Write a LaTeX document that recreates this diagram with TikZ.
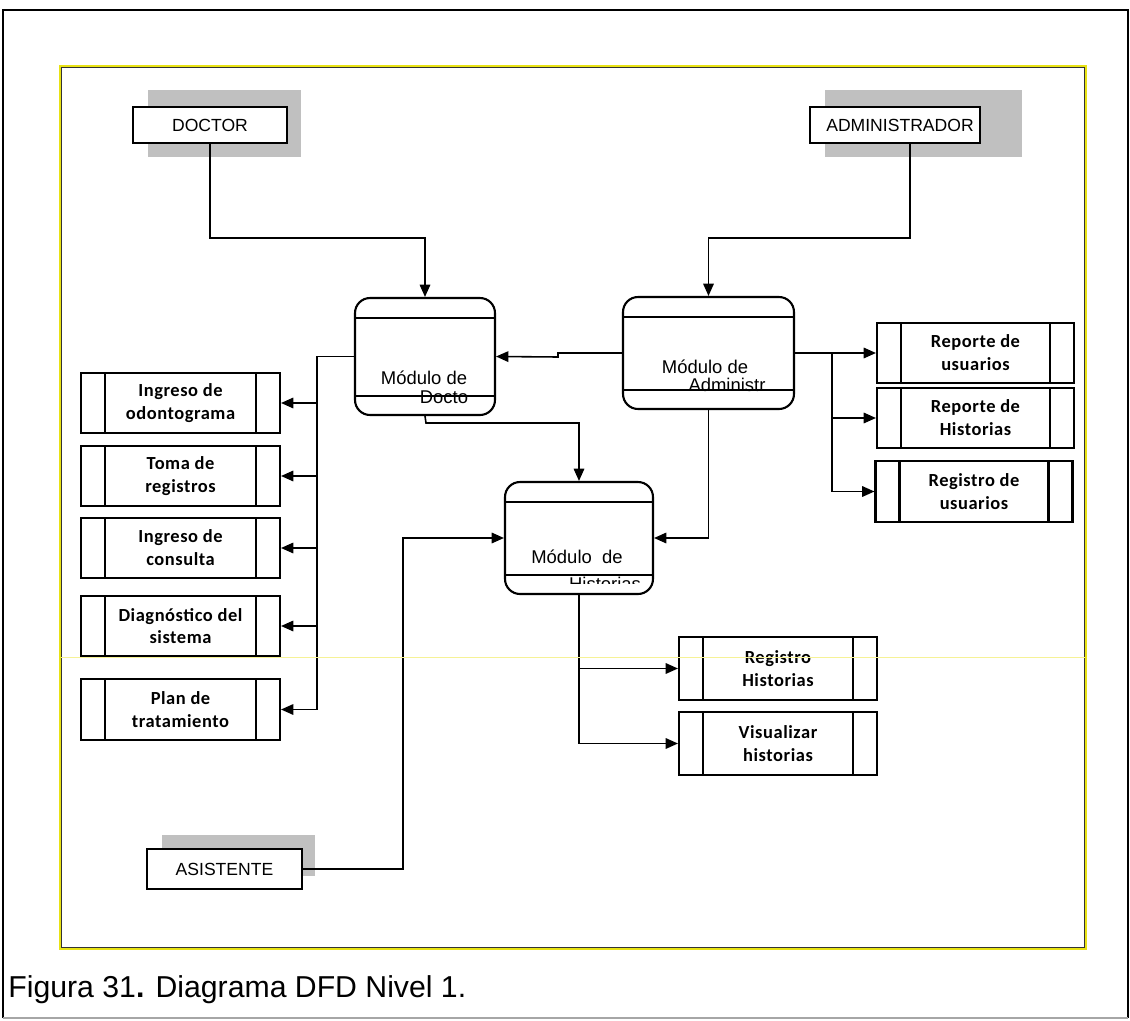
\documentclass[tikz,border=0pt]{standalone}
\usepackage{fontspec}
\setmainfont{Liberation Sans}
\newfontfamily\storefont[LetterSpace=3]{Carlito}
\usetikzlibrary{arrows.meta}
\definecolor{framey}{RGB}{232,226,20}
\definecolor{guidey}{RGB}{246,242,150}
\definecolor{shadowgray}{RGB}{192,192,192}
\begin{document}
\begin{tikzpicture}[x=0.02cm, y=-0.02cm,
  ent/.style={draw, line width=1pt, fill=white, inner sep=0pt,
    minimum height=0.72cm, font=\fontsize{10}{12}\selectfont},
  shade/.style={fill=shadowgray, draw=none},
  store/.style={draw, line width=1.2pt, fill=white, inner sep=0pt,
    minimum height=1.2cm, align=center,
    font=\storefont\bfseries\fontsize{10.5}{13}\selectfont,
    path picture={
      \draw[line width=1.2pt]
        ([xshift=0.48cm]path picture bounding box.north west) --
        ([xshift=0.48cm]path picture bounding box.south west);
      \draw[line width=1.2pt]
        ([xshift=-0.48cm]path picture bounding box.north east) --
        ([xshift=-0.48cm]path picture bounding box.south east);}},
  proc/.style={draw, line width=1.2pt, fill=white, rounded corners=0.3cm,
    inner sep=0pt,
    path picture={
      \draw[line width=1.2pt]
        ([yshift=-0.4cm]path picture bounding box.north west) --
        ([yshift=-0.4cm]path picture bounding box.north east);
      \draw[line width=1.2pt]
        ([yshift=0.38cm]path picture bounding box.south west) --
        ([yshift=0.38cm]path picture bounding box.south east);}},
  ptext/.style={inner sep=0pt, font=\fontsize{10.5}{12}\selectfont},
  flow/.style={line width=0.9pt, -{Triangle[length=7pt,width=6pt]}},
  wire/.style={line width=0.9pt}]

\useasboundingbox (0,0) rectangle (1130,1021);

% outer page frame
\draw[black, line width=1pt] (3,1018) -- (3,10) -- (1128,10) -- (1128,1018);
\draw[black!35, line width=0.8pt] (3,1018) -- (1128,1018);

% inner yellow frame
\draw[framey, line width=1.6pt] (60,66) rectangle (1086,949);
\draw[black!80, line width=0.7pt] (61.5,67.5) rectangle (1084.5,947.5);

% external entities with their grey shadows
\fill[shade] (148,90) rectangle (301,157);
\fill[shade] (825,90) rectangle (1022,157);
\fill[shade] (162,835) rectangle (315,876);
\node[ent, minimum width=3.08cm] (doc) at (210,125) {DOCTOR};
\node[ent, minimum width=3.4cm] (adm) at (895,125) {\hspace*{0.2cm}ADMINISTRADOR};
\node[ent, minimum width=3.1cm, minimum height=0.8cm] (asi) at (224.5,869) {ASISTENTE};

% processes
\node[proc, minimum width=2.8cm, minimum height=2.34cm] (pd) at (425,356.5) {};
\node[proc, minimum width=3.42cm, minimum height=2.24cm] (pa) at (708.5,353) {};
\node[proc, minimum width=2.96cm, minimum height=2.24cm] (ph) at (579,538) {};

\node[ptext] (pdt1) at (424,378) {Módulo de};
\begin{scope}
  \clip (356,380) rectangle (494,403);
  \node[ptext, anchor=north] (pdt2) at (444,390) {Docto};
\end{scope}
\node[ptext] (pat1) at (705,367) {Módulo de};
\node[ptext] (pat2) at (727,385) {Administr};
\node[ptext] (pht1) at (577,557) {Módulo\ \ de};
\begin{scope}
  \clip (506,570) rectangle (652,583);
  \node[ptext, anchor=north] (pht2) at (605,577) {Historias};
\end{scope}

% data stores, left column
\node[store, minimum width=3.98cm] (s1) at (180.5,403) {Ingreso de\\odontograma};
\node[store, minimum width=3.98cm] (s2) at (180.5,476) {Toma de\\registros};
\node[store, minimum width=3.98cm] (s3) at (180.5,548) {Ingreso de\\consulta};
\node[store, minimum width=3.98cm] (s4) at (180.5,626) {Diagnóstico del\\sistema};
\node[store, minimum width=3.98cm, minimum height=1.22cm] (s5) at (180.5,709.5) {Plan de\\tratamiento};

% data stores, right column
\node[store, minimum width=3.94cm] (r1) at (975.5,353) {Reporte de\\usuarios};
\node[store, minimum width=3.94cm] (r2) at (975.5,418) {Reporte de\\Historias};
\node[store, minimum width=3.94cm, minimum height=1.22cm] (r3) at (974,491.5) {Registro de\\usuarios};

% data stores, below the history module
\node[store, minimum width=3.96cm, minimum height=1.26cm] (v1) at (778,668.5) {Registro\\Historias};
\node[store, minimum width=3.96cm, minimum height=1.26cm] (v2) at (778,743.5) {Visualizar\\historias};

% junction points of the flow lines
\coordinate (busL) at (317,0);
\coordinate (busR) at (832,0);
\coordinate (jd) at (426,423);
\coordinate (ja) at (403,869);

% flows from the entities
\draw[flow] (doc.south) -- ++(0,94) -| (pd.north);
\draw[flow] ([xshift=0.3cm]adm.south) -- ++(0,94) -| (pa.north);
\draw[flow] (asi.east) -- (ja) |- (ph.west);

% administrator module to doctor module
\draw[flow] (pa.west) -- ++(-64,0) -- ++(0,4) -- (pd.east);

% doctor module to its stores
\draw[wire] (pd.west) -- (busL |- pd.west) -- (busL |- s5.east);
\draw[flow] (busL |- s1.east) -- (s1.east);
\draw[flow] (busL |- s2.east) -- (s2.east);
\draw[flow] (busL |- s3.east) -- (s3.east);
\draw[flow] (busL |- s4.east) -- (s4.east);
\draw[flow] (busL |- s5.east) -- (s5.east);

% administrator module to its stores
\draw[wire] (pa.east) -- (busR |- pa.east) -- (busR |- r3.west);
\draw[flow] (busR |- r1.west) -- (r1.west);
\draw[flow] (busR |- r2.west) -- (r2.west);
\draw[flow] (busR |- r3.west) -- (r3.west);

% flows into the history module
\draw[flow] (pd.south) -- (jd) -| (ph.north);
\draw[flow] (pa.south) |- (ph.east);

% history module to its stores
\draw[flow] (ph.south) |- (v2.west);
\draw[flow] (ph.south |- v1.west) -- (v1.west);

% thin yellow guide line across the sheet
\draw[guidey, line width=0.5pt] (61,657) -- (1085,657);

% caption
\node[anchor=base west, inner sep=0pt, font=\fontsize{17.2}{20}\selectfont] (cap)
  at (8,997) {Figura 31\textbf{.} Diagrama DFD Nivel 1.};
\end{tikzpicture}
\end{document}
